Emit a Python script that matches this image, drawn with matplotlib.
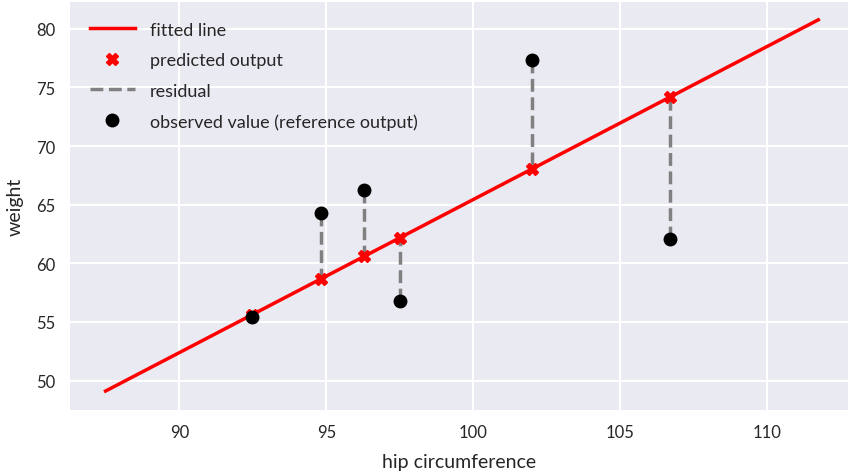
import numpy as np
import matplotlib.pyplot as plt

# observed data (hip circumference vs weight)
hip = [92.48, 94.80, 96.29, 97.49, 102.0, 106.7]
weight = [55.45, 64.30, 66.29, 56.82, 77.31, 62.10]

# fitted model: weight = slope * hip + intercept
slope = 1.306
intercept = -65.15
line_range = [87.49, 111.73]

plt.rcParams['font.family'] = ['Lato', 'DejaVu Sans']
plt.rcParams['axes.facecolor'] = '#EAEAF2'
plt.rcParams['axes.edgecolor'] = 'white'
plt.rcParams['grid.color'] = 'white'
plt.rcParams['grid.linewidth'] = 1.5
plt.rcParams['xtick.color'] = '#262626'
plt.rcParams['ytick.color'] = '#262626'
plt.rcParams['axes.labelcolor'] = '#262626'
plt.rcParams['text.color'] = '#262626'

fig = plt.figure(figsize=(8.5, 4.77), dpi=100)
ax = fig.add_axes([0.082, 0.138, 0.916, 0.856])

hip = np.array(hip)
weight = np.array(weight)
pred = slope * hip + intercept
xx = np.array(line_range)

ax.plot(xx, slope * xx + intercept, color='red', lw=2.5, label='fitted line', zorder=3)
ax.plot(hip, pred, 'X', color='red', ms=9, label='predicted output', zorder=5)
for i in range(len(hip)):
    ax.plot([hip[i], hip[i]], [weight[i], pred[i]], '--', color='gray', lw=2.5,
            label='residual' if i == 0 else None, zorder=4)
ax.plot(hip, weight, 'o', color='black', ms=9, label='observed value (reference output)', zorder=6)

ax.set_xlim(86.27, 112.75)
ax.set_ylim(47.48, 82.3)
ax.set_xticks([90, 95, 100, 105, 110])
ax.set_yticks([50, 55, 60, 65, 70, 75, 80])
ax.grid(True)
ax.set_axisbelow(True)
for s in ax.spines.values():
    s.set_visible(False)
ax.tick_params(length=0, labelsize=12, pad=10)

ax.set_xlabel('hip circumference', fontsize=14, labelpad=9)
ax.set_ylabel('weight', fontsize=14, labelpad=9)

ax.legend(loc='upper left', frameon=False, fontsize=13, handlelength=2.5,
          handletextpad=0.85, labelspacing=0.8, borderaxespad=0.7)

fig.savefig('out.png', dpi=100)
